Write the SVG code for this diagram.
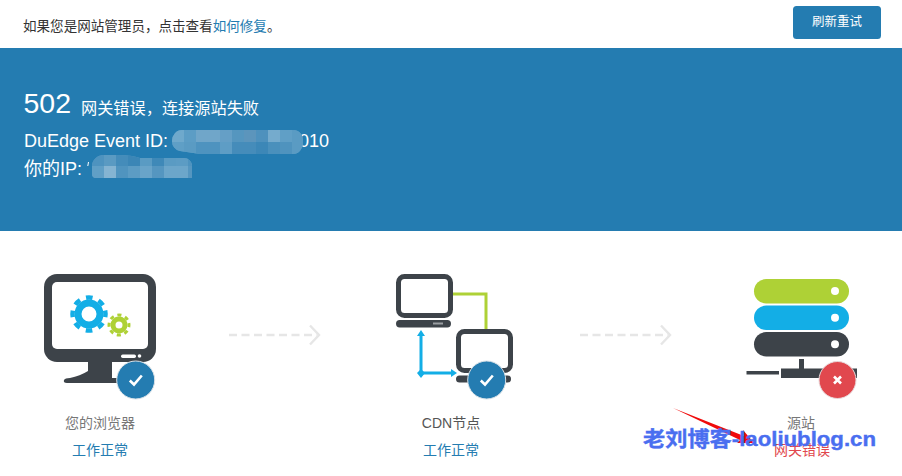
<svg xmlns="http://www.w3.org/2000/svg" width="902" height="476" viewBox="0 0 902 476">
<style>
text{font-family:"Liberation Sans","Noto Sans CJK SC",sans-serif}
.lab{font-size:14px;text-anchor:middle}
.dark{fill:#3d4349}
.scr{fill:#fff;stroke:#3d4349;stroke-width:5}
.flow{fill:none;stroke:#e6e6e6;stroke-width:2.4;stroke-dasharray:8 4.5}
.chev{fill:none;stroke:#e6e6e6;stroke-width:2.4}
.ok{fill:#247cb1;stroke:#d9e2e8;stroke-width:1}
.mk{fill:none;stroke:#fff;stroke-width:2.6}
.cell{stroke:none}
</style>
<defs>
<clipPath id="clipId"><path d="M182 130H293a10 10 0 0 1 10 11v2a10 11 0 0 1-10 11H200L180 151a10 10 0 0 1-8-10a10 11 0 0 1 10-11Z"/></clipPath>
<clipPath id="clipIp"><path d="M104 155H118Q132 155 140 158H184a8 8 0 0 1 8 8v12H95a4 4 0 0 1-3-4V166a12 11 0 0 1 12-11Z"/></clipPath>
</defs>
<rect width="902" height="476" fill="#fff"/>

<g id="notice">
<text x="23" y="31" font-size="13.55" fill="#333">如果您是网站管理员，点击查看<tspan fill="#247cb1">如何修复</tspan>。</text>
</g>
<g id="refresh">
<rect x="793" y="6" width="88" height="33" rx="3.5" fill="#247cb1"/>
<text x="837" y="26" font-size="12.5" fill="#fff" text-anchor="middle">刷新重试</text>
</g>

<g id="banner">
<rect y="48" width="902" height="183" fill="#247cb1"/>
<text x="23.500" y="113" font-size="28.500" fill="#fff">502</text>
<text x="81" y="114" font-size="16.2" fill="#fff">网关错误，连接源站失败</text>
<text x="24" y="147" font-size="18" fill="#fff">DuEdge Event ID:</text>
<text x="299" y="147" font-size="18" fill="#fff">010</text>
<text x="24" y="175" font-size="18" fill="#fff">你的IP:</text>
<path d="M88.500 162L87.800 166M188 161.500Q191 162 191 165" fill="none" stroke="#fff" stroke-width="1"/>
<g clip-path="url(#clipId)">
<rect x="172" y="130" width="131" height="24" fill="#5f9fc6"/>
<rect class="cell" x="172" y="130" width="12" height="12" fill="#6fa9cc"/>
<rect class="cell" x="184" y="130" width="12" height="12" fill="#5c9dc5"/>
<rect class="cell" x="196" y="130" width="12" height="12" fill="#70a6c9"/>
<rect class="cell" x="208" y="130" width="12" height="12" fill="#70a6c9"/>
<rect class="cell" x="220" y="130" width="12" height="12" fill="#659fc6"/>
<rect class="cell" x="232" y="130" width="12" height="12" fill="#5596bf"/>
<rect class="cell" x="244" y="130" width="12" height="12" fill="#5c95bc"/>
<rect class="cell" x="256" y="130" width="12" height="12" fill="#4e91bd"/>
<rect class="cell" x="268" y="130" width="12" height="12" fill="#75abcd"/>
<rect class="cell" x="280" y="130" width="12" height="12" fill="#609fc6"/>
<rect class="cell" x="292" y="130" width="11" height="12" fill="#5a9bc3"/>
<rect class="cell" x="172" y="142" width="12" height="12" fill="#5f9fc6"/>
<rect class="cell" x="184" y="142" width="12" height="12" fill="#5a9bc3"/>
<rect class="cell" x="196" y="142" width="12" height="12" fill="#4e93bf"/>
<rect class="cell" x="208" y="142" width="12" height="12" fill="#4e93bf"/>
<rect class="cell" x="220" y="142" width="12" height="12" fill="#5e9dc5"/>
<rect class="cell" x="232" y="142" width="12" height="12" fill="#458cba"/>
<rect class="cell" x="244" y="142" width="12" height="12" fill="#458cba"/>
<rect class="cell" x="256" y="142" width="12" height="12" fill="#3c87b7"/>
<rect class="cell" x="268" y="142" width="12" height="12" fill="#4a90bc"/>
<rect class="cell" x="280" y="142" width="12" height="12" fill="#4f93be"/>
<rect class="cell" x="292" y="142" width="11" height="12" fill="#5a9bc3"/>
</g>
<g clip-path="url(#clipIp)">
<rect x="92" y="155" width="100" height="23" fill="#5a9bc3"/>
<rect class="cell" x="92" y="155" width="12" height="11" fill="#4e93bf"/>
<rect class="cell" x="104" y="155" width="12" height="11" fill="#5a9ac2"/>
<rect class="cell" x="116" y="155" width="12" height="11" fill="#448cba"/>
<rect class="cell" x="128" y="155" width="12" height="11" fill="#3b86b6"/>
<rect class="cell" x="140" y="155" width="12" height="11" fill="#5a9bc3"/>
<rect class="cell" x="152" y="155" width="12" height="11" fill="#3f89b8"/>
<rect class="cell" x="164" y="155" width="12" height="11" fill="#5a9bc3"/>
<rect class="cell" x="176" y="155" width="12" height="11" fill="#5c9cc4"/>
<rect class="cell" x="188" y="155" width="4" height="11" fill="#4e93bf"/>
<rect class="cell" x="92" y="166" width="12" height="12" fill="#609fc6"/>
<rect class="cell" x="104" y="166" width="12" height="12" fill="#85b4d2"/>
<rect class="cell" x="116" y="166" width="12" height="12" fill="#5094bf"/>
<rect class="cell" x="128" y="166" width="12" height="12" fill="#5c9cc4"/>
<rect class="cell" x="140" y="166" width="12" height="12" fill="#69a4c9"/>
<rect class="cell" x="152" y="166" width="12" height="12" fill="#5596c0"/>
<rect class="cell" x="164" y="166" width="12" height="12" fill="#6ca6ca"/>
<rect class="cell" x="176" y="166" width="12" height="12" fill="#6ca6ca"/>
<rect class="cell" x="188" y="166" width="4" height="12" fill="#5596c0"/>
</g>
</g>

<g id="connectors">
<path class="flow" d="M229 335H317"/>
<path class="chev" d="M310 325.500L319 335L310 344.500"/>
<path class="flow" d="M580 335H668"/>
<path class="chev" d="M661 325.500L670 335L661 344.500"/>
</g>

<g id="browser">
<rect x="44" y="274" width="112" height="88" rx="13" class="dark"/>
<rect x="52" y="282" width="96" height="67" rx="5" fill="#fff"/>
<path class="dark" d="M88 360H112V378H135V383H67Q63 383 64 380Q65 378 70 378Q80 376 88 371Z"/>
<rect x="121" y="354.500" width="15" height="3.500" rx="1.700" fill="#fff"/>
<circle cx="139.500" cy="356" r="1.800" fill="#fff"/>
<circle cx="89" cy="314" r="11" fill="none" stroke="#13aee6" stroke-width="7"/>
<circle cx="89" cy="314" r="16.500" fill="none" stroke="#13aee6" stroke-width="4.500" stroke-dasharray="6.500 6.458" transform="rotate(-12 89 314)"/>
<circle cx="119" cy="325" r="6" fill="none" stroke="#aed136" stroke-width="5"/>
<circle cx="119" cy="325" r="10" fill="none" stroke="#aed136" stroke-width="3" stroke-dasharray="4 3.854" transform="rotate(-11 119 325)"/>
<circle cx="135.700" cy="380" r="19" class="ok"/>
<path class="mk" d="M129.800 380.500L134 384.500L141.800 375.500"/>
<text class="lab" x="100" y="428" fill="#777">您的浏览器</text>
<text class="lab" x="100" y="455" fill="#247cb1">工作正常</text>
</g>

<g id="cdn">
<path d="M453 294H486V330" fill="none" stroke="#aed136" stroke-width="3"/>
<path d="M421 334V373H453" fill="none" stroke="#13aee6" stroke-width="3"/>
<path d="M421 330L425 336H417ZM457 373L451 377V369ZM421 378L417 373L421 369L425 373Z" fill="#13aee6"/>
<rect x="398.500" y="276.500" width="52" height="39" rx="6" class="scr"/>
<rect x="396" y="320" width="55" height="7.500" rx="3.700" class="dark"/>
<rect x="433" y="322.500" width="10" height="2" fill="#9a9ea2"/>
<rect x="458.500" y="331.500" width="52" height="39" rx="6" class="scr"/>
<rect x="456" y="375.500" width="55" height="7" rx="3.500" class="dark"/>
<circle cx="486.700" cy="380" r="19" class="ok"/>
<path class="mk" d="M480.800 380.500L485 384.500L492.800 375.500"/>
<text class="lab" x="451" y="428" fill="#555">CDN节点</text>
<text class="lab" x="451" y="455" fill="#247cb1">工作正常</text>
</g>

<g id="origin">
<rect x="754" y="279" width="95" height="24.500" rx="12.200" fill="#aed136"/>
<rect x="754" y="305.500" width="95" height="24.500" rx="12.200" fill="#13aee6"/>
<rect x="754" y="332" width="95" height="24.500" rx="12.200" class="dark"/>
<circle cx="835" cy="291" r="4" fill="#fff"/>
<circle cx="835" cy="317.700" r="4" fill="#fff"/>
<circle cx="835" cy="344.300" r="4" fill="#fff"/>
<rect x="746.500" y="371" width="32.500" height="3.500" class="dark"/>
<rect x="781" y="368.500" width="76" height="9.500" class="dark"/>
<rect x="799" y="359" width="5" height="10" class="dark"/>
<circle cx="837.500" cy="380" r="18.500" fill="#e1484e" stroke="#e8d8da" stroke-width="1"/>
<path d="M834 376.500L841 383.500M841 376.500L834 383.500" fill="none" stroke="#fff" stroke-width="2.600"/>
<text class="lab" x="801" y="428" fill="#777">源站</text>
<text class="lab" x="802" y="455" fill="#e1484e">网关错误</text>
</g>

<g id="annotation">
<path d="M673 408L744 436L743 430L754 443L737 443L740 440Z" fill="#f00a0a"/>
<text x="643" y="446" font-size="21" font-weight="700" fill="#4a6ef0" stroke="#4a6ef0" stroke-width=".4" textLength="233" lengthAdjust="spacingAndGlyphs">老刘博客-laoliublog.cn</text>
</g>
</svg>
